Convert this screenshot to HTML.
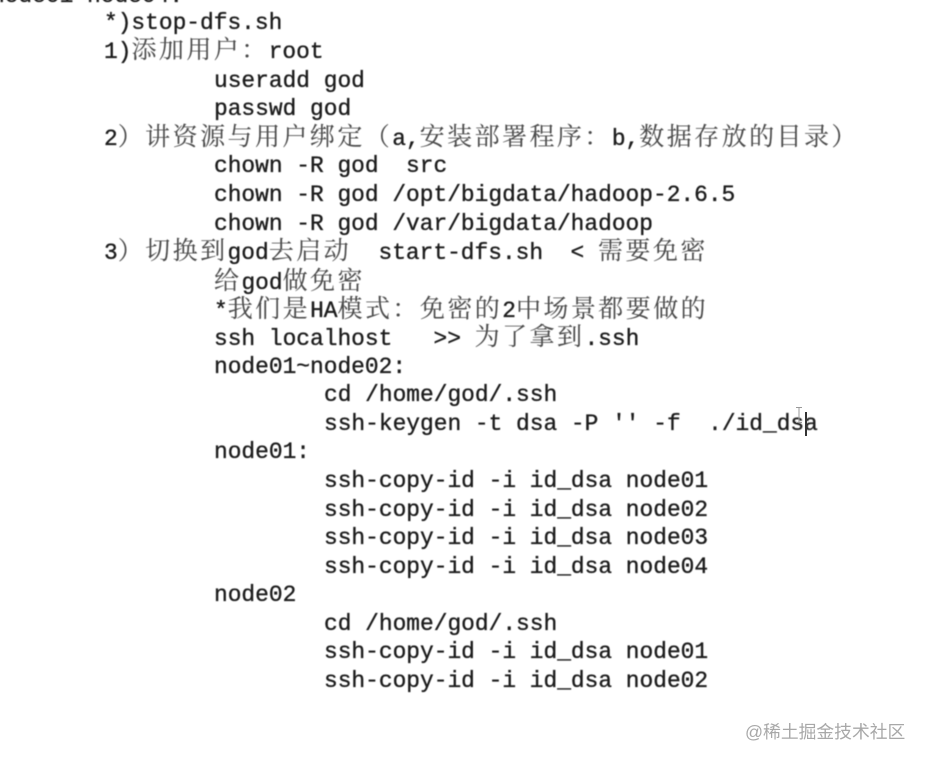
<!DOCTYPE html>
<html lang="zh">
<head>
<meta charset="utf-8">
<title>stop-dfs</title>
<style>
html,body{margin:0;padding:0;background:#fff;}
body{width:927px;height:764px;position:relative;overflow:hidden;}
.t{position:absolute;left:0;margin-top:1px;white-space:pre;height:28px;line-height:28px;
  font-family:"Liberation Mono","Noto Sans CJK SC",monospace;font-size:22.87px;color:#1c1c1c;
  filter:blur(.4px);-webkit-text-stroke:.35px #1c1c1c;}
.c{font-family:"Noto Serif CJK SC","Noto Sans CJK SC",serif;font-size:25px;line-height:0;letter-spacing:2.45px;color:#4a4a4a;-webkit-text-stroke:.1px #4a4a4a;}
.a{left:104px}.b{left:214px}.d{left:324px}
.wm{position:absolute;left:745px;top:720px;line-height:24px;white-space:pre;font-family:"Liberation Sans","Noto Sans CJK SC",sans-serif;font-size:17.8px;color:#a8a8a8;}
.cursor{position:absolute;left:805px;top:412px;width:2px;height:24px;background:#333;}
.beam{position:absolute;left:796px;top:407px;width:6px;height:16px;}
</style>
</head>
<body>
<div class="t" style="left:-9px;top:-19px">node01 node04:</div>
<div class="t a" style="top:8px">*)stop-dfs.sh</div>
<div class="t a" style="top:37px">1)<span class="c">添加用户：</span>root</div>
<div class="t b" style="top:66px">useradd god</div>
<div class="t b" style="top:94px">passwd god</div>
<div class="t a" style="top:124px">2<span class="c">）讲资源与用户绑定（</span>a,<span class="c">安装部署程序：</span>b,<span class="c">数据存放的目录）</span></div>
<div class="t b" style="top:151px">chown -R god  src</div>
<div class="t b" style="top:180px">chown -R god /opt/bigdata/hadoop-2.6.5</div>
<div class="t b" style="top:209px">chown -R god /var/bigdata/hadoop</div>
<div class="t a" style="top:238px">3<span class="c">）切换到</span>god<span class="c">去启动</span>  start-dfs.sh  &lt; <span class="c">需要免密</span></div>
<div class="t b" style="top:268px"><span class="c">给</span>god<span class="c">做免密</span></div>
<div class="t b" style="top:296px">*<span class="c">我们是</span>HA<span class="c">模式：免密的</span>2<span class="c">中场景都要做的</span></div>
<div class="t b" style="top:324px">ssh localhost   &gt;&gt; <span class="c">为了拿到</span>.ssh</div>
<div class="t b" style="top:352px">node01~node02:</div>
<div class="t d" style="top:380px">cd /home/god/.ssh</div>
<div class="t d" style="top:409px">ssh-keygen -t dsa -P '' -f  ./id_dsa</div>
<div class="t b" style="top:437px">node01:</div>
<div class="t d" style="top:466px">ssh-copy-id -i id_dsa node01</div>
<div class="t d" style="top:495px">ssh-copy-id -i id_dsa node02</div>
<div class="t d" style="top:523px">ssh-copy-id -i id_dsa node03</div>
<div class="t d" style="top:552px">ssh-copy-id -i id_dsa node04</div>
<div class="t b" style="top:580px">node02</div>
<div class="t d" style="top:609px">cd /home/god/.ssh</div>
<div class="t d" style="top:637px">ssh-copy-id -i id_dsa node01</div>
<div class="t d" style="top:666px">ssh-copy-id -i id_dsa node02</div>
<div class="cursor"></div>
<svg class="beam" viewBox="0 0 6 16"><path d="M0 .5h6M0 15.5h6M3 .5v15" stroke="#999" stroke-width="1" fill="none"/></svg>
<div class="wm">@稀土掘金技术社区</div>
</body>
</html>
